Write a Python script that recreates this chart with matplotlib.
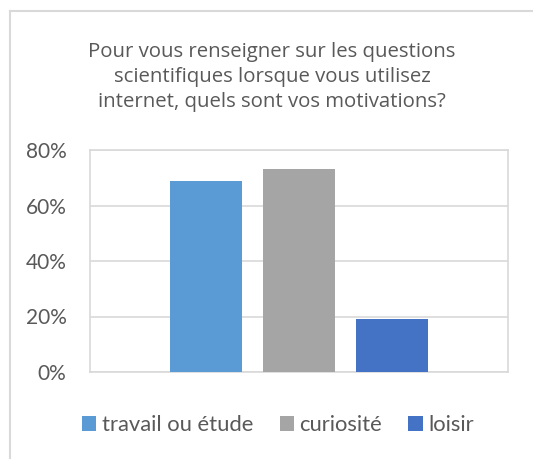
import matplotlib.pyplot as plt
from matplotlib.lines import Line2D
from matplotlib.ticker import PercentFormatter

# data
series = ["travail ou étude", "curiosité", "loisir"]
values = [0.69, 0.73, 0.19]
colors = ["#5B9BD5", "#A5A5A5", "#4472C4"]
yticks = [0, 0.2, 0.4, 0.6, 0.8]

W, H = 533, 459
fig = plt.figure(figsize=(W / 100, H / 100), dpi=100)
fig.patch.set_facecolor("white")

# outer chart border: only the top and left edges are visible
bx, by = 9.5 / W, 1 - 10.5 / H
fig.lines.append(Line2D([bx, 1.05], [by, by], transform=fig.transFigure,
                        color="#D9D9D9", linewidth=1.5))
fig.lines.append(Line2D([bx, bx], [-0.05, by], transform=fig.transFigure,
                        color="#D9D9D9", linewidth=1.5))

# plot area in pixels: x 90..508, y 150..372
ax = fig.add_axes([90 / W, 1 - 372 / H, 418 / W, 222 / H])

offsets = [-0.2225, 0, 0.2225]
for name, v, c, o in zip(series, values, colors, offsets):
    ax.bar(o, v, width=0.1746, color=c, label=name, zorder=3)

ax.set_xlim(-0.5, 0.5)
ax.set_ylim(0, 0.8)
ax.set_yticks(yticks)
ax.yaxis.set_major_formatter(PercentFormatter(1.0, decimals=0))
ax.set_xticks([])
ax.grid(axis="y", color="#D9D9D9", linewidth=1.2, zorder=0)
for s in ax.spines.values():
    s.set_color("#D9D9D9")
    s.set_linewidth(1.2)
ax.tick_params(axis="y", length=0, pad=17, labelsize=15, labelcolor="#595959")
for lab in ax.get_yticklabels():
    lab.set_family("Lato")

title = "Pour vous renseigner sur les questions\nscientifiques lorsque vous utilisez\ninternet, quels sont vos motivations?"
fig.text(272 / W, 1 - 77 / H, title, ha="center", va="center",
         fontsize=14.7, color="#595959", family="Open Sans", linespacing=1.32)

leg = fig.legend(loc="center", bbox_to_anchor=(278 / W, 1 - 425 / H), ncol=3,
                 frameon=False, handlelength=0.65, handleheight=0.65,
                 handletextpad=0.25, columnspacing=1.2,
                 prop={"family": "Lato", "size": 15.8})
for t in leg.get_texts():
    t.set_color("#595959")

fig.savefig("out.png", dpi=100)
